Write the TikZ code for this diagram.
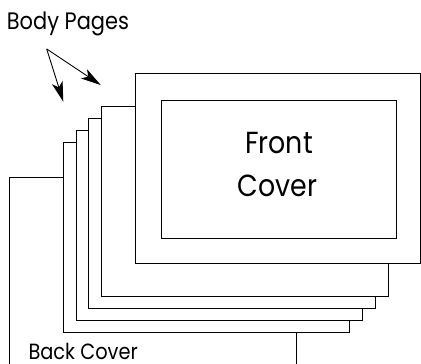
\documentclass[tikz,border=0pt]{standalone}
\usepackage{fontspec}
\setmainfont{Poppins}[FakeStretch=0.88]
\usetikzlibrary{arrows.meta}
\tikzset{
  sheet/.style={draw=black, fill=white, line width=1.1pt, anchor=north west, inner sep=0pt},
  label/.style={inner sep=0pt, anchor=base west, text=black},
  pointer/.style={line width=0.9pt, -{Stealth[length=20pt, width=11pt, inset=5pt]}}
}
\begin{document}
\begin{tikzpicture}[x=1pt, y=-1pt]
\useasboundingbox (0,0) rectangle (421,364);
\begin{scope}
\clip (0,0) rectangle (421,364);
% back cover
\node[sheet, minimum width=286.7pt, minimum height=220pt] (back) at (9.3,177) {};
% body pages
\node[sheet, minimum width=286.6pt, minimum height=190.6pt] (p4) at (62.7,141.7) {};
\node[sheet, minimum width=286.6pt, minimum height=190.3pt] (p3) at (75.7,129.7) {};
\node[sheet, minimum width=286.7pt, minimum height=190.3pt] (p2) at (88.3,117.7) {};
\node[sheet, minimum width=286.7pt, minimum height=190.3pt] (p1) at (101.3,105.7) {};
% front cover
\node[sheet, minimum width=285.3pt, minimum height=190.2pt] (front) at (134.7,72.5) {};
\node[sheet, minimum width=234.4pt, minimum height=138pt] (inner) at (161.3,99.5) {};
\end{scope}
\node[inner sep=0pt, anchor=base, font=\fontsize{30.5}{36}\selectfont] (frontword) at (279,153) {Front};
\node[inner sep=0pt, anchor=base, font=\fontsize{30.5}{36}\selectfont] (coverword) at (277.5,196) {Cover};
\node[label, font=\fontsize{22}{26}\selectfont] (backlabel) at (28.3,359.3) {Back Cover};
\node[label, font=\fontsize{23.8}{28}\selectfont] (bodylabel) at (6.7,30) {Body Pages};
\coordinate (src) at (46.7,49);
\coordinate (tipA) at (63.3,101.7);
\coordinate (tipB) at (100.7,85);
\draw[pointer] (src) -- (tipA);
\draw[pointer] (src) -- (tipB);
\end{tikzpicture}
\end{document}
